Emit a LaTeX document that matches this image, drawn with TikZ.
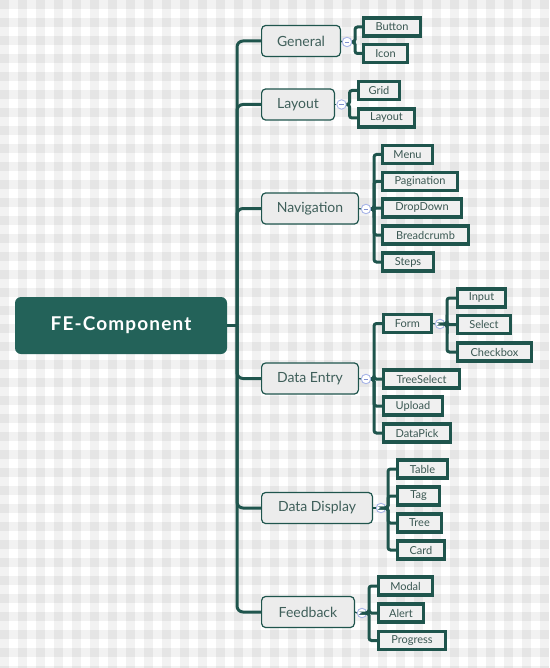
\documentclass[tikz,border=0pt]{standalone}
\usepackage{fontspec}
\setmainfont{Lato}
\newfontfamily\rootfont[LetterSpace=6]{Lato}
\usetikzlibrary{calc}
\definecolor{teal}{HTML}{1F554D}
\definecolor{rootfill}{HTML}{236259}
\definecolor{topfill}{HTML}{ECECEC}
\definecolor{leaffill}{HTML}{F0F0F0}
\definecolor{toptext}{HTML}{3F5F5A}
\definecolor{leaftext}{HTML}{3A5752}
\definecolor{ctrl}{HTML}{A9B6E8}
\definecolor{ctrlminus}{HTML}{8090D0}
\tikzset{
  rootbox/.style={draw=none, fill=rootfill, rounded corners=6pt, text=white,
    font=\rootfont\fontsize{19}{21}\selectfont\bfseries, minimum width=212pt, minimum height=57pt, inner sep=0pt},
  topbox/.style={draw=teal, line width=1.2pt, fill=topfill, rounded corners=4pt, text=toptext,
    font=\fontsize{14}{16}\selectfont, minimum height=31pt, inner sep=0pt},
  leafbox/.style={draw=teal, line width=3.2pt, fill=leaffill, text=leaftext,
    font=\fontsize{11}{13}\selectfont, minimum height=18pt, inner sep=0pt},
  ctrlbox/.style={circle, draw=ctrl, line width=0.9pt, fill=white, minimum size=9.5pt, inner sep=0pt,
    path picture={\draw[ctrlminus, line width=0.9pt] ($(path picture bounding box.center)+(-2.3pt,0)$) -- ($(path picture bounding box.center)+(2.3pt,0)$);}},
  trunkline/.style={draw=teal, line width=3pt, rounded corners=6pt},
  branchline/.style={draw=teal, line width=3pt, rounded corners=2.5pt},
  stubline/.style={draw=teal, line width=1.2pt},
}
\begin{document}
\begin{tikzpicture}[x=1pt,y=-1pt]
\useasboundingbox (0,0) rectangle (549,668);
% gingham background
\fill[white] (0,0) rectangle (549,668);
\foreach \i in {0,...,31} {
  \fill[black, opacity=0.05] (18*\i,0) rectangle ++(9,668);
}
\foreach \j in {0,...,37} {
  \fill[black, opacity=0.05] (0,18*\j) rectangle ++(549,9);
}

% root
\node[rootbox] (root) at (121,325.5) {FE-Component};
\coordinate (trk) at (237,325.5);

% level-1
\node[topbox, minimum width=78.8pt] (gen) at (301,41) {General};
\node[topbox, minimum width=72.8pt] (lay) at (298,104.5) {Layout};
\node[topbox, minimum width=96.8pt] (nav) at (310,208.5) {Navigation};
\node[topbox, minimum width=96.8pt] (den) at (310,378.5) {Data Entry};
\node[topbox, minimum width=110.8pt] (ddi) at (317,508) {Data Display};
\node[topbox, minimum width=92.8pt] (fbk) at (308,612) {Feedback};

\draw[draw=teal, line width=3pt] (root.east) -- (trk);
\foreach \n in {gen,lay,nav,den,ddi,fbk} {
  \draw[trunkline] (trk) |- (\n.west);
}

% control circles
\node[ctrlbox] (cgen) at (347,42) {};
\node[ctrlbox] (clay) at (341.5,104.5) {};
\node[ctrlbox] (cnav) at (366,209) {};
\node[ctrlbox] (cden) at (366,379) {};
\node[ctrlbox] (cddi) at (381,508) {};
\node[ctrlbox] (cfbk) at (362,613) {};
\node[ctrlbox] (cform) at (440,324) {};

% bracket x positions
\coordinate (bgen) at (355,0);
\coordinate (blay) at (349.5,0);
\coordinate (bnav) at (374,0);
\coordinate (bden) at (374,0);
\coordinate (bddi) at (388,0);
\coordinate (bfbk) at (369,0);
\coordinate (bform) at (447,0);

% leaves
\node[leafbox, minimum width=56.8pt] (button) at (392,27) {Button};
\node[leafbox, minimum width=43.8pt] (icon) at (385.5,53.5) {Icon};

\node[leafbox, minimum width=40.8pt] (grid) at (379,90.5) {Grid};
\node[leafbox, minimum width=55.8pt] (layout) at (386.5,118) {Layout};

\node[leafbox, minimum width=49.8pt] (menu) at (407.5,154.5) {Menu};
\node[leafbox, minimum width=74.8pt] (pagi) at (420,181.5) {Pagination};
\node[leafbox, minimum width=78.8pt] (drop) at (422,208) {DropDown};
\node[leafbox, minimum width=85.8pt] (bread) at (425.5,235) {Breadcrumb};
\node[leafbox, minimum width=50.8pt] (steps) at (408,262) {Steps};

\node[leafbox, minimum width=47.8pt] (form) at (407.5,323.5) {Form};
\node[leafbox, minimum width=75.8pt] (tsel) at (421.5,379) {TreeSelect};
\node[leafbox, minimum width=58.8pt] (upload) at (413,406) {Upload};
\node[leafbox, minimum width=66.8pt] (dpick) at (417,433) {DataPick};

\node[leafbox, minimum width=47.8pt] (input) at (481.5,298) {Input};
\node[leafbox, minimum width=52.8pt] (select) at (484,324.5) {Select};
\node[leafbox, minimum width=73.8pt] (check) at (494.5,352) {Checkbox};

\node[leafbox, minimum width=49.8pt] (table) at (422.5,469) {Table};
\node[leafbox, minimum width=41.8pt] (tag) at (418.5,496) {Tag};
\node[leafbox, minimum width=43.8pt] (tree) at (419.5,523) {Tree};
\node[leafbox, minimum width=46.8pt] (card) at (421,550) {Card};

\node[leafbox, minimum width=53.8pt] (modal) at (405.5,586) {Modal};
\node[leafbox, minimum width=44.8pt] (alert) at (401,613) {Alert};
\node[leafbox, minimum width=66.8pt] (prog) at (412,640.5) {Progress};

% parent -> control stubs
\foreach \p/\c in {gen/cgen, lay/clay, nav/cnav, den/cden, ddi/cddi, fbk/cfbk, form/cform} {
  \draw[stubline] (\p.east) -- (\c.west);
}

% brackets
\foreach \c/\b/\k in {cgen/bgen/button, cgen/bgen/icon,
  clay/blay/grid, clay/blay/layout,
  cnav/bnav/menu, cnav/bnav/pagi, cnav/bnav/drop, cnav/bnav/bread, cnav/bnav/steps,
  cden/bden/form, cden/bden/tsel, cden/bden/upload, cden/bden/dpick,
  cform/bform/input, cform/bform/select, cform/bform/check,
  cddi/bddi/table, cddi/bddi/tag, cddi/bddi/tree, cddi/bddi/card,
  cfbk/bfbk/modal, cfbk/bfbk/alert, cfbk/bfbk/prog} {
  \draw[branchline] (\c.east) -- (\c.east -| \b) |- (\k.west);
}
\end{tikzpicture}
\end{document}
